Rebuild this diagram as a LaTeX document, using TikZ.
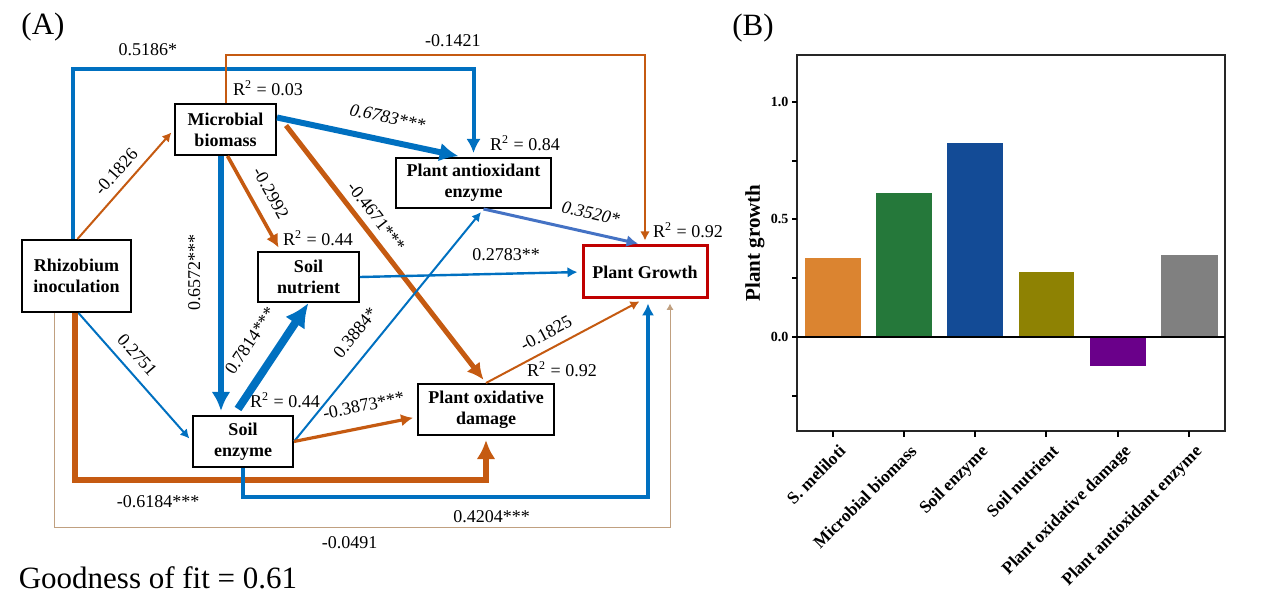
\documentclass[tikz,border=0pt]{standalone}
\usepackage{fontspec}
\setmainfont{Liberation Serif}
\usetikzlibrary{shapes,arrows.meta}

\definecolor{pathblue}{HTML}{0070C0}
\definecolor{pathorange}{HTML}{C55A11}
\definecolor{lightblue}{HTML}{4472C4}
\definecolor{tanline}{HTML}{C0A080}
\definecolor{growred}{HTML}{C00000}
\definecolor{barorange}{HTML}{DB8430}
\definecolor{bargreen}{HTML}{25783A}
\definecolor{barblue}{HTML}{134B96}
\definecolor{barolive}{HTML}{8E8203}
\definecolor{barpurple}{HTML}{6A008A}
\definecolor{bargray}{HTML}{808080}

\begin{document}
\begin{tikzpicture}[x=0.5pt, y=-0.5pt, semithick]
  \tikzstyle{block} = [rectangle, draw, line width=1pt, text centered, align=center,
    inner sep=0pt, font=\bfseries\fontsize{9}{10.5}\selectfont]
  \tikzstyle{coef} = [text=black, inner sep=2.5pt, font=\fontsize{9}{10}\selectfont]
  \tikzstyle{coefit} = [coef, font=\itshape\fontsize{9}{10}\selectfont]
  \tikzstyle{rsq} = [inner sep=0pt, font=\fontsize{9}{10}\selectfont]
  \tikzstyle{line} = [draw, -{Latex[length=2pt 2.5, width=2.5pt 2.3]}, shorten >=2pt]
  \tikzstyle{posline} = [line, draw=pathblue]
  \tikzstyle{negline} = [line, draw=pathorange]
  \tikzstyle{panel} = [font=\fontsize{15.5}{18}\selectfont]
  \tikzstyle{ticklab} = [inner sep=1pt, font=\bfseries\fontsize{7}{8}\selectfont]
  \tikzstyle{barlab} = [rotate=45, anchor=north east, inner sep=0pt,
    font=\bfseries\fontsize{8.7}{10}\selectfont]

  \useasboundingbox (0,0) rectangle (1268,598);

  % Place nodes
  \node [panel] (labA) at (43,27) {(A)};
  \node [block, minimum width=54.5pt, minimum height=36pt] (rhizo) at (76.5,276) {Rhizobium\\inoculation};
  \node [block, minimum width=50.5pt, minimum height=25.5pt] (micro) at (225.5,129.5) {Microbial\\biomass};
  \node [block, minimum width=50.5pt, minimum height=25pt] (nutr) at (308.5,277) {Soil\\nutrient};
  \node [block, minimum width=50pt, minimum height=25.5pt] (senz) at (243,441.5) {Soil\\enzyme};
  \node [block, minimum width=77.5pt, minimum height=25pt] (antiox) at (473.5,183) {Plant antioxidant\\enzyme};
  \node [block, minimum width=68pt, minimum height=25.5pt] (oxid) at (486,409.5) {Plant oxidative\\damage};
  \node [block, draw=growred, line width=1.5pt, minimum width=62pt, minimum height=26pt] (growth) at (645,272) {Plant Growth};

  \node [rsq] (r2micro) at (268,88) {R\textsuperscript{2} = 0.03};
  \node [rsq] (r2antiox) at (525,143) {R\textsuperscript{2} = 0.84};
  \node [rsq] (r2nutr) at (318,238) {R\textsuperscript{2} = 0.44};
  \node [rsq] (r2senz) at (285,400) {R\textsuperscript{2} = 0.44};
  \node [rsq] (r2growth) at (688,230) {R\textsuperscript{2} = 0.92};
  \node [rsq] (r2oxid) at (562,369) {R\textsuperscript{2} = 0.92};

  \node [panel] (gof) at (158,578) {Goodness of fit = 0.61};

  % Draw edges
  \path [posline, line width=2pt] ([xshift=-2pt]rhizo.north) -- ++(0,-170)
    -| node [coef, inner sep=5.5pt, pos=0.094, above] {0.5186*} (antiox.north);
  \path [negline, line width=1pt] ([xshift=0.5pt]rhizo.north) -- node [coef, inner sep=4.25pt, pos=0.52, sloped, above] {-0.1826} (micro.west);
  \path [posline, line width=1pt] ([xshift=1pt]rhizo.south) -- node [coef, inner sep=4.6pt, pos=0.41, sloped, above] {0.2751} (senz.west);
  \path [negline, line width=3pt] ([xshift=-0.75pt]rhizo.south) -- ++(0,167)
    -| node [coef, inner sep=6.5pt, pos=0.101, below] {-0.6184***} (oxid.south);
  \path [line, draw=tanline, line width=0.5pt] ([xshift=-11.25pt]rhizo.south) -- ++(0,214)
    -| node [coef, inner sep=4.5pt, pos=0.24, below] {-0.0491} ([xshift=12.5pt]growth.south);

  \path [negline, line width=1pt] (micro.north) -- ++(0,-48)
    -| node [coef, inner sep=3.5pt, pos=0.271, above] {-0.1421} (growth.north);
  \path [posline, line width=3pt] ([yshift=6pt]micro.east) -- node [coefit, inner sep=7pt, pos=0.57, sloped, above] {0.6783***} ([xshift=-5.5pt]antiox.north);
  \path [posline, line width=3pt] ([xshift=-2.25pt]micro.south) -- node [coef, inner sep=8.75pt, pos=0.45, rotate=90, above] {0.6572***} ([xshift=-2.25pt]micro.south |- senz.north);
  \path [negline, line width=1.8pt] ([xshift=1pt]micro.south) -- node [coef, inner sep=6pt, pos=0.49, sloped, above] {-0.2992} ([xshift=-14pt]nutr.north);
  \path [negline, line width=2.5pt] ([xshift=4.5pt,yshift=2pt]micro.east) -- node [coef, inner sep=3.5pt, pos=0.39, sloped, above] {-0.4671***} (oxid.north);

  \path [posline, line width=4pt, shorten >=0pt] ([xshift=-2.5pt,yshift=3pt]senz.north) -- node [coef, inner sep=8.75pt, pos=0.5, sloped, above] {0.7814***} (nutr.south);
  \path [posline, line width=1pt] (senz.east) -- node [coef, inner sep=7pt, pos=0.41, sloped, above] {0.3884*} ([xshift=5pt]antiox.south);
  \path [negline, line width=1.6pt] (senz.east) -- node [coef, inner sep=7pt, pos=0.6, sloped, above] {-0.3873***} ([yshift=-3.75pt]oxid.west);
  \path [posline, line width=1.6pt] (senz.south) -- ++(0,29)
    -| node [coef, inner sep=5.75pt, pos=0.307, below] {0.4204***} ([xshift=1.5pt]growth.south);

  \path [posline, line width=1.2pt] (nutr.east) -- node [coef, inner sep=6pt, pos=0.66, above] {0.2783**} (growth.west);
  \path [line, draw=lightblue, line width=1.5pt] ([xshift=5pt]antiox.south) -- node [coefit, inner sep=6pt, pos=0.65, sloped, above] {0.3520*} ([xshift=-1.5pt]growth.north);
  \path [negline, line width=1pt] (oxid.north) -- node [coef, inner sep=4.3pt, pos=0.43, sloped, above] {-0.1825} ([xshift=-1pt]growth.south);

  % Bar chart
  \node [panel] (labB) at (753,28) {(B)};
  \fill [barorange] (805,337) rectangle (861,258);
  \fill [bargreen] (876,337) rectangle (932,193);
  \fill [barblue] (947,337) rectangle (1003,143);
  \fill [barolive] (1019,337) rectangle (1074,272);
  \fill [barpurple] (1090,337) rectangle (1146,366);
  \fill [bargray] (1161,337) rectangle (1218,255);
  \draw [line width=0.6pt, black!85] (797,55) rectangle (1225,431);
  \draw [line width=0.7pt] (797,337) -- (1225,337);
  \draw [line width=0.6pt] (797,102) -- ++(-5,0) (797,161) -- ++(-5,0) (797,219) -- ++(-5,0)
    (797,278) -- ++(-5,0) (797,337) -- ++(-5,0) (797,396) -- ++(-5,0);
  \draw [line width=0.6pt] (833,431) -- ++(0,6) (904,431) -- ++(0,6) (975,431) -- ++(0,6)
    (1046,431) -- ++(0,6) (1118,431) -- ++(0,6) (1189,431) -- ++(0,6);
  \node [ticklab, left] (t10) at (791,102) {1.0};
  \node [ticklab, left] (t05) at (791,219) {0.5};
  \node [ticklab, left] (t00) at (791,337) {0.0};
  \node [rotate=90, font=\bfseries\fontsize{10.5}{12}\selectfont] (ylab) at (755,243) {Plant growth};
  \node [barlab] (xl1) at (838,443) {S. meliloti};
  \node [barlab] (xl2) at (909,443) {Microbial biomass};
  \node [barlab] (xl3) at (980,443) {Soil enzyme};
  \node [barlab] (xl4) at (1051,443) {Soil nutrient};
  \node [barlab] (xl5) at (1123,443) {Plant oxidative damage};
  \node [barlab] (xl6) at (1194,443) {Plant antioxidant enzyme};
\end{tikzpicture}
\end{document}
